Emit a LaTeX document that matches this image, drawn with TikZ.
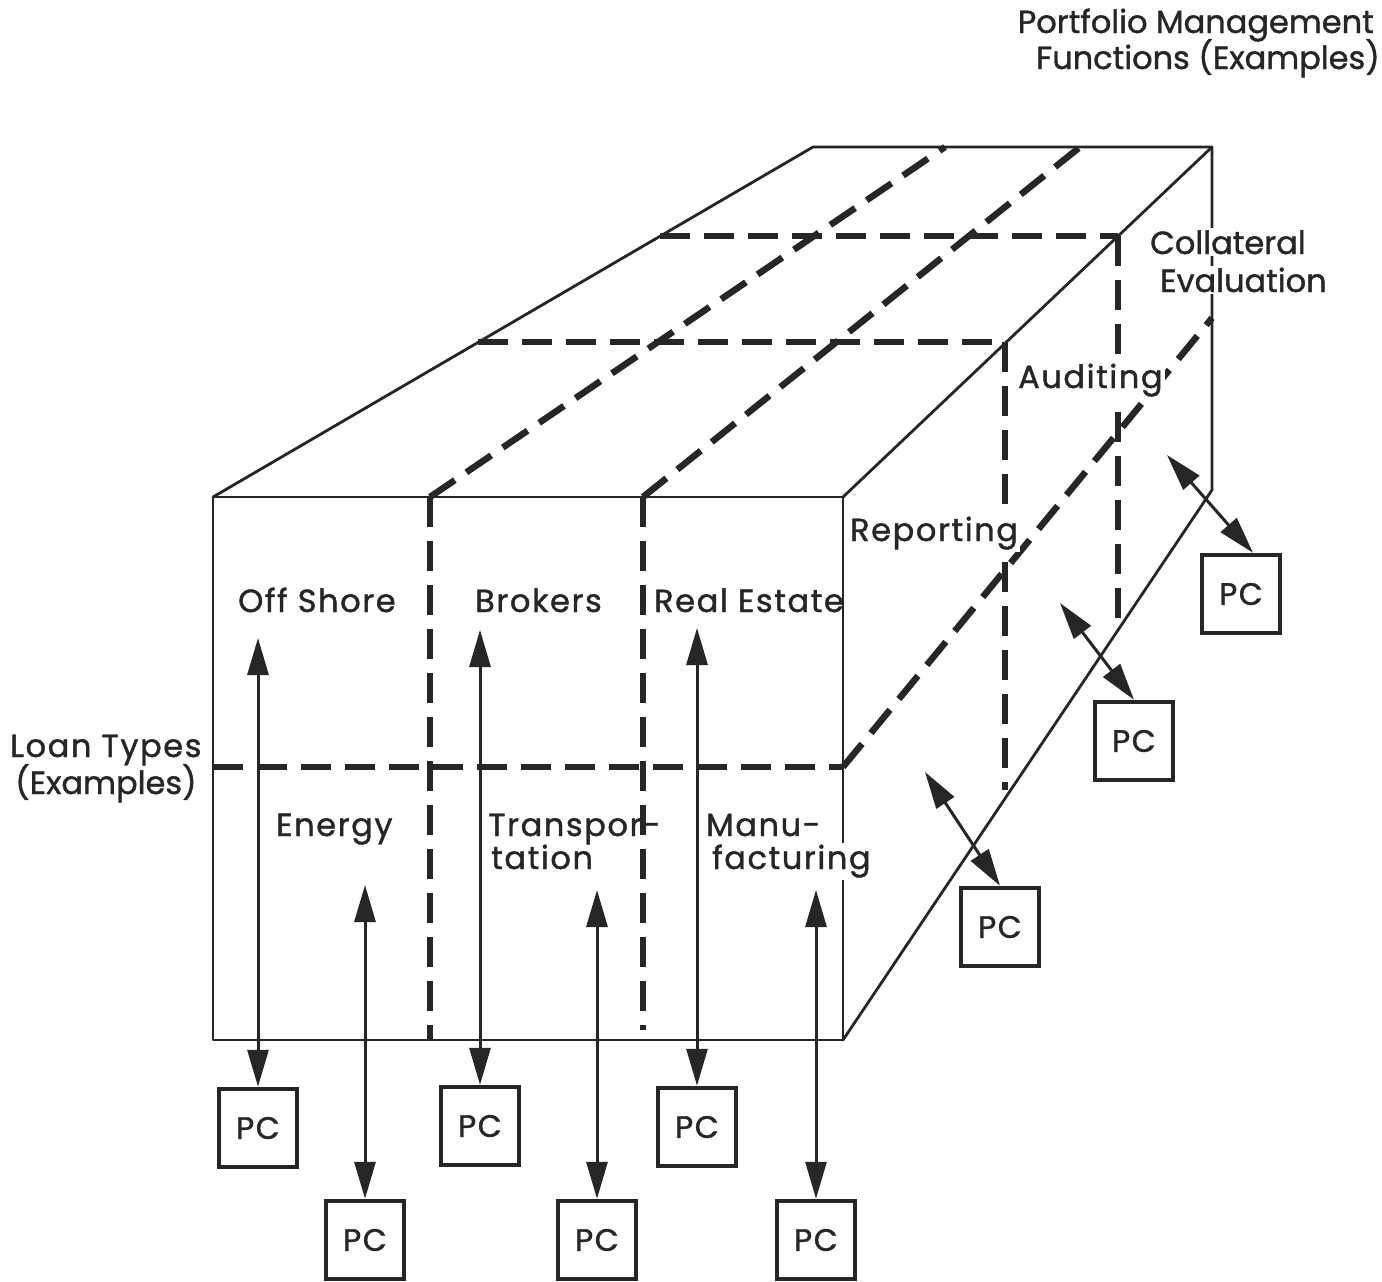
\documentclass[tikz,border=0pt]{standalone}
\usepackage{fontspec}
\setmainfont{Poppins}[LetterSpace=5,FakeBold=1.2]
\usetikzlibrary{arrows.meta}
\begin{document}
\begin{tikzpicture}[x=1pt,y=-1pt,
  edge/.style={line width=2.8pt, line cap=round, line join=round, draw=black!85},
  dsh/.style={line width=6.5pt, draw=black!85, dash pattern=on 30pt off 14pt},
  pcbox/.style={draw=black!85, line width=4.5pt, minimum width=78pt, minimum height=78pt, inner sep=0pt,
    font=\fontsize{31}{34}\selectfont, text=black!85},
  lbl/.style={inner sep=0pt, font=\fontsize{32}{36}\selectfont, text=black!85},
  lbln/.style={inner sep=0pt, font=\fontsize{32}{36}\selectfont\addfontfeature{LetterSpace=0}, text=black!85},
  lblw/.style={lbl, fill=white, inner sep=2pt},
  lblnw/.style={lbln, fill=white, inner sep=2pt},
  arr/.style={line width=3pt, draw=black!85,
    {Triangle[length=37pt,width=21pt]}-{Triangle[length=37pt,width=21pt]}}]
\useasboundingbox (0,0) rectangle (1382,1282);
\fill[white] (0,0) rectangle (1382,1282);

% dashed division lines
\draw[dsh] (430,497) -- (430,1040);
\draw[dsh] (643,497) -- (643,1030);
\draw[dsh] (213,767) -- (843,767);
\draw[dsh] (430,497) -- (945,147);
\draw[dsh] (643,497) -- (1080,147);
\draw[dsh] (478,342) -- (1005,342);
\draw[dsh] (660,236) -- (1118,236);
\draw[dsh] (843,767) -- (1212,318);
\draw[dsh] (1005,342) -- (1005,790);
\draw[dsh] (1118,236) -- (1118,622);

% solid edges of the box
\draw[edge] (213,497) rectangle (843,1040);
\draw[edge] (213,497) -- (813,147) -- (1212,147) -- (1212,490) -- (843,1040);
\draw[edge] (843,497) -- (1212,147);

% titles
\node[lbln, anchor=base east] (t1) at (1374,33) {Portfolio Management};
\node[lbln, anchor=base east] (t2) at (1380,69) {Functions (Examples)};
\node[lbl, anchor=base west] (lt1) at (10,757) {Loan Types};
\node[lbln, anchor=base west] (lt2) at (15,794) {(Examples)};

% front labels
\node[lbl, anchor=base west] (off) at (238,612) {Off Shore};
\node[lbl, anchor=base west] (bro) at (475,612) {Brokers};
\node[lbl, anchor=base west] (rea) at (654,612) {Real Estate};
\node[lbl, anchor=base west] (ene) at (276,836) {Energy};
\node[lbl, anchor=base west] (tra1) at (488,836) {Transpor-};
\node[lbl, anchor=base west] (tra2) at (491,869) {tation};
\node[lbl, anchor=base west] (man1) at (706,836) {Manu-};
\node[lblw, anchor=base west] (man2) at (710,869) {facturing};

% side labels
\node[lblw, anchor=base west] (rep) at (848,541) {Reporting};
\node[lblw, anchor=base west] (aud) at (1016,388) {Auditing};
\node[lblnw, anchor=base west] (col1) at (1148,254) {Collateral};
\node[lblnw, anchor=base west] (col2) at (1158,292) {Evaluation};

% PCs
\node[pcbox] (pc1) at (258,1128) {PC};
\node[pcbox] (pc2) at (365,1240) {PC};
\node[pcbox] (pc3) at (480,1126) {PC};
\node[pcbox] (pc4) at (597,1240) {PC};
\node[pcbox] (pc5) at (697,1127) {PC};
\node[pcbox] (pc6) at (816,1240) {PC};
\node[pcbox] (pc7) at (1000,927) {PC};
\node[pcbox] (pc8) at (1134,741) {PC};
\node[pcbox] (pc9) at (1241,594) {PC};

% arrow ends inside the box
\coordinate (e1) at (258,638);
\coordinate (e2) at (365,885);
\coordinate (e3) at (480,630);
\coordinate (e4) at (597,890);
\coordinate (e5) at (697,628);
\coordinate (e6) at (816,890);
\coordinate (e7) at (925,772);
\coordinate (e8) at (1060,603);
\coordinate (e9) at (1167,455);

\draw[arr] (e1) -- (pc1.north);
\draw[arr] (e2) -- (pc2.north);
\draw[arr] (e3) -- (pc3.north);
\draw[arr] (e4) -- (pc4.north);
\draw[arr] (e5) -- (pc5.north);
\draw[arr] (e6) -- (pc6.north);
\draw[arr] (e7) -- (pc7.north);
\draw[arr] (e8) -- (pc8.north);
\draw[arr] (e9) -- ([xshift=12pt]pc9.north);
\end{tikzpicture}
\end{document}
